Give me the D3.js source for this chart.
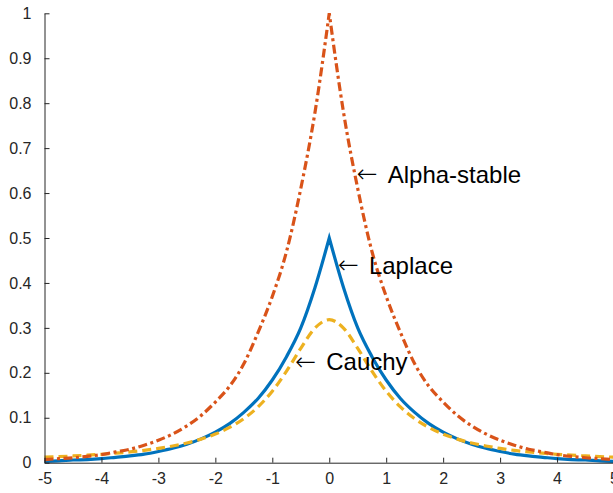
<!DOCTYPE html>
<html>
<head>
<meta charset="utf-8">
<script src="https://cdn.jsdelivr.net/npm/d3@7"></script>
<style>
	body { margin: 0; background: #fff; }
	#graphicContainer { width: 613px; height: 493px; }
	text { font-family: "Liberation Sans", Arial, Helvetica, sans-serif; }
</style>
</head>
<body>
<div id="graphicContainer"></div>
<script>

// x positions the curves were read at

var xValues = [-5, -4.75, -4.5, -4.25, -4, -3.75, -3.5, -3.25, -3, -2.75, -2.5, -2.25, -2, -1.75, -1.5, -1.25, -1, -0.75, -0.5, -0.25,
	0, 0.25, 0.5, 0.75, 1, 1.25, 1.5, 1.75, 2, 2.25, 2.5, 2.75, 3, 3.25, 3.5, 3.75, 4, 4.25, 4.5, 4.75, 5]

var alphaStable = [0.007, 0.009, 0.011, 0.014, 0.018, 0.024, 0.03, 0.039, 0.05, 0.064, 0.082, 0.105, 0.135, 0.17, 0.22, 0.29, 0.37, 0.47, 0.61, 0.78,
	1, 0.78, 0.61, 0.47, 0.37, 0.29, 0.22, 0.17, 0.135, 0.105, 0.082, 0.064, 0.05, 0.039, 0.03, 0.024, 0.018, 0.014, 0.011, 0.009, 0.007]

var laplace = [0.003, 0.004, 0.006, 0.007, 0.009, 0.012, 0.015, 0.019, 0.025, 0.032, 0.041, 0.053, 0.068, 0.087, 0.112, 0.143, 0.184, 0.236, 0.30, 0.39,
	0.5, 0.39, 0.30, 0.236, 0.184, 0.143, 0.112, 0.087, 0.068, 0.053, 0.041, 0.032, 0.025, 0.019, 0.015, 0.012, 0.009, 0.007, 0.006, 0.004, 0.003]

var cauchy = [0.0122, 0.0135, 0.015, 0.0167, 0.0187, 0.0211, 0.024, 0.0275, 0.0318, 0.0372, 0.0439, 0.0525, 0.0637, 0.0784, 0.0979, 0.1242, 0.1592, 0.2037, 0.2546, 0.2996,
	0.3183, 0.2996, 0.2546, 0.2037, 0.1592, 0.1242, 0.0979, 0.0784, 0.0637, 0.0525, 0.0439, 0.0372, 0.0318, 0.0275, 0.024, 0.0211, 0.0187, 0.0167, 0.015, 0.0135, 0.0122]

var xTicks = [-5, -4, -3, -2, -1, 0, 1, 2, 3, 4, 5]
var yTicks = [0, 0.1, 0.2, 0.3, 0.4, 0.5, 0.6, 0.7, 0.8, 0.9, 1]

// text labels with arrows, position is where the arrow points

var labelNames = ["Alpha-stable", "Laplace", "Cauchy"]
var labelX = [0.5, 0.17, -0.58]
var labelY = [0.642, 0.44, 0.225]

function init() {

	var width = 613
	var height = 493
	var axisColor = "#262626"

	var svg = d3.select("#graphicContainer").append("svg")
		.attr("width", width)
		.attr("height", height)

	var x = d3.scaleLinear()
		.domain([-5, 5])
		.range([44.5, 614])

	var y = d3.scaleLinear()
		.domain([0, 1])
		.range([462.7, 13.3])

	var series = [
		{"name": "Alpha-stable", "values": alphaStable, "color": "#D95319", "dash": "9,3.5,3,3.5", "cusp": true},
		{"name": "Laplace", "values": laplace, "color": "#0072BD", "dash": null, "cusp": true},
		{"name": "Cauchy", "values": cauchy, "color": "#EDB120", "dash": "9,5", "cusp": false}
	]

	var line = d3.line()
		.x(function(d) { return x(d[0]) })
		.y(function(d) { return y(d[1]) })
		.curve(d3.curveMonotoneX)

	// draw order: Laplace, Cauchy, alpha-stable on top
	var order = [1, 2, 0]

	order.forEach(function(i) {
		var s = series[i]
		var pts = xValues.map(function(v, j) { return [v, s.values[j]] })
		var pathD

		// the peaked curves are drawn as two halves so the peak stays sharp
		if (s.cusp) {
			var mid = xValues.indexOf(0)
			var left = pts.slice(0, mid + 1)
			var right = pts.slice(mid)
			pathD = line(left) + line(right).replace(/^M[^CL]*/, "")
			pathD = line(left) + "L" + line(right).slice(1)
		}
		else {
			pathD = line(pts)
		}

		svg.append("path")
			.attr("fill", "none")
			.attr("stroke", s.color)
			.attr("stroke-width", 3.2)
			.attr("stroke-dasharray", s.dash)
			.attr("stroke-linejoin", "miter")
			.attr("d", pathD)
	})

	// axes, matlab style ticks pointing inwards

	var xAxis = svg.append("g")
		.attr("transform", "translate(0," + y(0) + ")")
		.call(d3.axisBottom(x).tickValues(xTicks).tickSizeInner(-5).tickSizeOuter(0).tickPadding(10).tickFormat(function(d) { return String(d) }))

	var yAxis = svg.append("g")
		.attr("transform", "translate(" + x(-5) + ",0)")
		.call(d3.axisLeft(y).tickValues(yTicks).tickSizeInner(-5).tickSizeOuter(0).tickPadding(13).tickFormat(function(d) { return String(d) }))

	svg.selectAll(".domain").attr("stroke", axisColor).attr("stroke-width", 1)
	svg.selectAll(".tick line").attr("stroke", axisColor)
	svg.selectAll(".tick text")
		.attr("fill", axisColor)
		.style("font-size", "16px")
		.style("font-family", "'Liberation Sans', Arial, sans-serif")

	xAxis.selectAll(".tick text").attr("dy", "0.71em")

	labelNames.forEach(function(name, i) {
		svg.append("text")
			.attr("x", x(labelX[i]) - 1)
			.attr("y", y(labelY[i]))
			.attr("dy", "0.33em")
			.style("font-family", "'DejaVu Sans', sans-serif")
			.style("font-size", "25px")
			.style("font-weight", "200")
			.attr("fill", "#000")
			.text("\u2190")

		svg.append("text")
			.attr("x", x(labelX[i]) + 30)
			.attr("y", y(labelY[i]))
			.attr("dy", "0.36em")
			.style("font-size", "24px")
			.attr("fill", "#000")
			.text(name)
	})

}

init()

</script>
</body>
</html>
